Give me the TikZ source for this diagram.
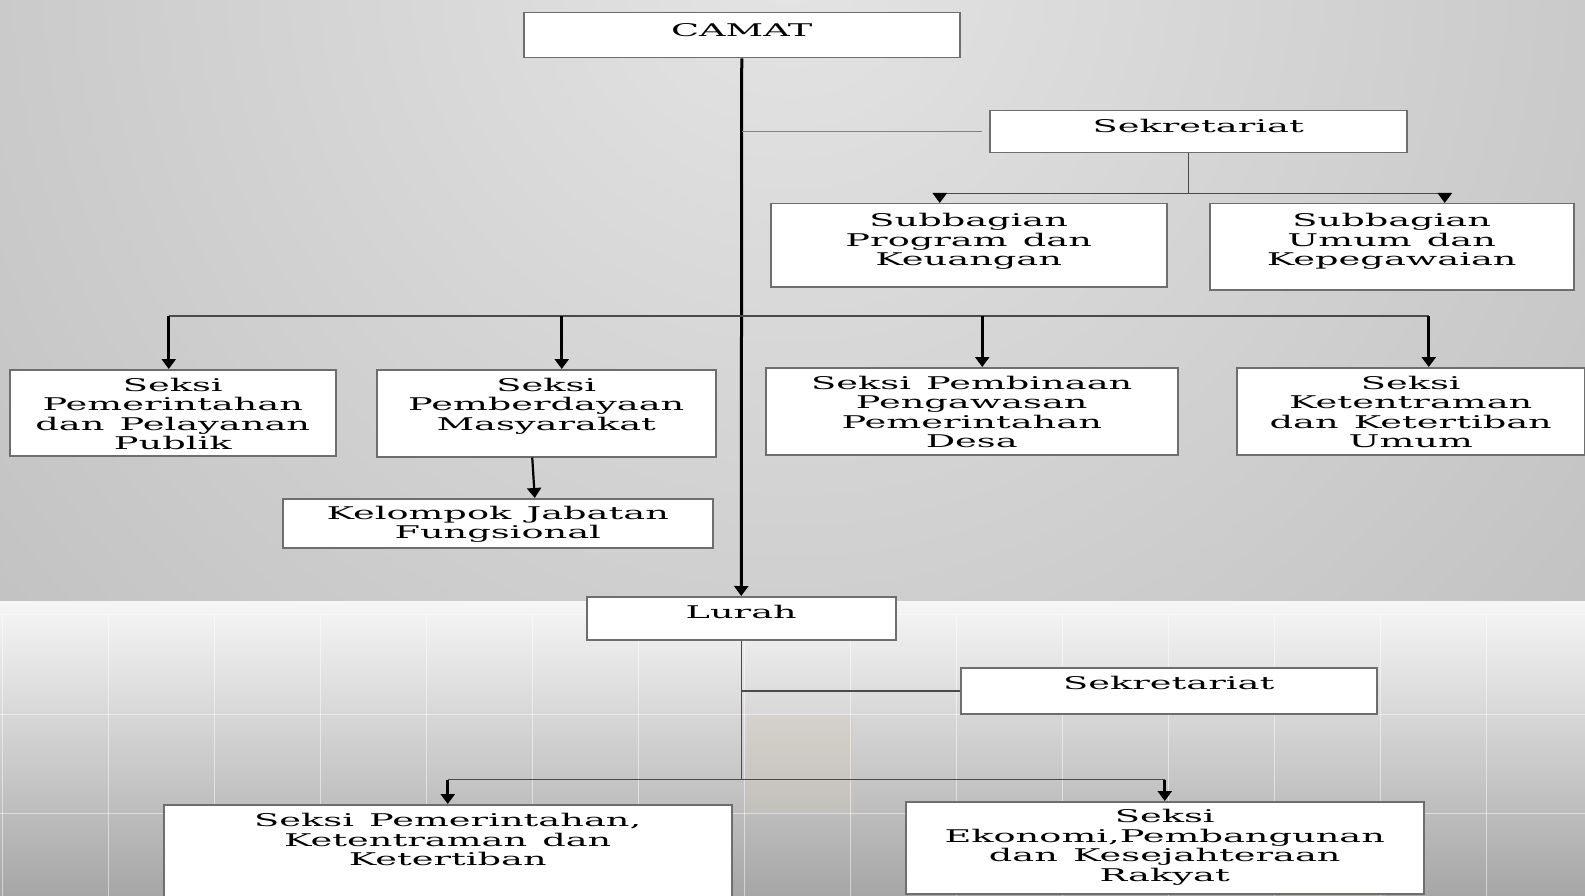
\documentclass[tikz,border=0pt]{standalone}
\usepackage{fontspec}
\usetikzlibrary{arrows.meta}

\newfontfamily\chartfont[FakeStretch=2.1, WordSpace=1.3]{DejaVu Serif}

\definecolor{boxgray}{HTML}{6E6E6E}
\definecolor{linegray}{HTML}{4A4A4A}
\definecolor{bgtop}{HTML}{E4E4E4}
\definecolor{bgedge}{HTML}{9C9C9C}
\definecolor{tiletop}{HTML}{F6F6F6}
\definecolor{tilebot}{HTML}{A6A6A6}
\definecolor{tilebeige}{HTML}{CFC9B6}

\tikzset{
  box/.style={draw=boxgray, line width=1.5pt, fill=white, anchor=north west,
    inner sep=0pt, align=flush center,
    font=\chartfont\fontsize{17.5pt}{19.5pt}\selectfont},
  arr/.style={line width=2.6pt, -{Triangle[width=14pt,length=10pt]}},
  link/.style={draw=linegray, line width=1.5pt},
}

\begin{document}
\begin{tikzpicture}[x=1pt,y=-1pt]
\useasboundingbox (0,0) rectangle (1585,896);

% background
\begin{scope}
\clip (0,0) rectangle (1585,601);
\shade[inner color=bgtop, outer color=bgedge] (790,-40) circle (2200pt);
\end{scope}
\shade[top color=tiletop, bottom color=tilebot] (0,601) rectangle (1585,896);
\fill[tilebeige, opacity=0.35] (747,714) rectangle (853,813);
\fill[tilebeige, opacity=0.35] (1280,890) rectangle (1386,896);
\foreach \x in {2.5,108.5,...,1590}
  \draw[white, opacity=0.5, line width=1pt] (\x,614) -- (\x,896);
\foreach \y in {614,714,813}
  \draw[white, opacity=0.5, line width=1pt] (0,\y) -- (1585,\y);

% kecamatan
\node[box, text width=436pt, text height=23.4pt, text depth=21.6pt] (camat) at (523,12) {CAMAT};
\node[box, text width=417pt, text height=22pt, text depth=20pt] (sek) at (989,110) {Sekretariat};
\node[box, text width=396pt, text height=23pt, text depth=60pt] (spk) at (770,203) {Subbagian\\Program dan\\Keuangan};
\node[box, text width=364pt, text height=23pt, text depth=63pt] (suk) at (1209,203) {Subbagian\\Umum dan\\Kepegawaian};

\node[box, text width=326pt, text height=21.7pt, text depth=64.3pt] (ppp) at (9,369) {Seksi\\Pemerintahan\\dan Pelayanan\\Publik};
\node[box, text width=339pt, text height=21.7pt, text depth=65.3pt] (pm) at (376,369) {Seksi\\Pemberdayaan\\Masyarakat};
\node[box, text width=412pt, text height=21.3pt, text depth=65.7pt] (pppd) at (765,367) {Seksi Pembinaan\\Pengawasan\\Pemerintahan\\Desa};
\node[box, text width=348pt, text height=21.3pt, text depth=65.7pt] (kku) at (1236,367) {Seksi\\Ketentraman\\dan Ketertiban\\Umum};
\node[box, text width=430pt, text height=20.3pt, text depth=28.7pt] (kjf) at (282,498) {Kelompok Jabatan\\Fungsional};

% kelurahan
\node[box, text width=309pt, text height=21.3pt, text depth=21.7pt] (lurah) at (586,596) {Lurah};
\node[box, text width=416pt, text height=22pt, text depth=24pt] (sekl) at (960,667) {Sekretariat};
\node[box, text width=568pt, text height=22pt, text depth=78pt] (spkk) at (163,804) {Seksi Pemerintahan,\\Ketentraman dan\\Ketertiban};
\node[box, text width=518pt, text height=21pt, text depth=71pt] (sepkr) at (905,801) {Seksi\\Ekonomi,Pembangunan\\dan Kesejahteraan\\Rakyat};

% camat
\draw[arr, line width=3pt] (camat.south) -- (lurah.north);
\draw[gray, line width=1.3pt] (camat.south |- sek.west) -- ([xshift=-7pt]sek.west);

\draw[link] ([xshift=-10pt]sek.south) -- ++(0,40) coordinate (sb);
\draw[link] ([xshift=-29pt]spk.north |- sb) -- ([xshift=53pt]suk.north |- sb);
\draw[arr] ([xshift=-29pt]spk.north |- sb) -- ([xshift=-29pt]spk.north);
\draw[arr] ([xshift=53pt]suk.north |- sb) -- ([xshift=53pt]suk.north);

\coordinate (bus) at (740,316);
\draw[link] ([xshift=-4pt]ppp.north |- bus) -- ([xshift=18pt]kku.north |- bus);
\foreach \n/\d in {ppp/-4,pm/15.5,pppd/10.5,kku/18}
  \draw[arr] ([xshift=\d pt]\n.north |- bus) -- ([xshift=\d pt]\n.north);
\draw[arr, line width=2.2pt] ([xshift=-14pt]pm.south) -- ([xshift=37pt]kjf.north);

% lurah
\draw[link] (lurah.south) -- ++(0,139) coordinate (lb);
\draw[link] (lurah.south |- sekl.west) -- (sekl.west);
\draw[link] (spkk.north |- lb) -- (sepkr.north |- lb);
\draw[arr] (spkk.north |- lb) -- (spkk.north);
\draw[arr] (sepkr.north |- lb) -- (sepkr.north);

\end{tikzpicture}
\end{document}
